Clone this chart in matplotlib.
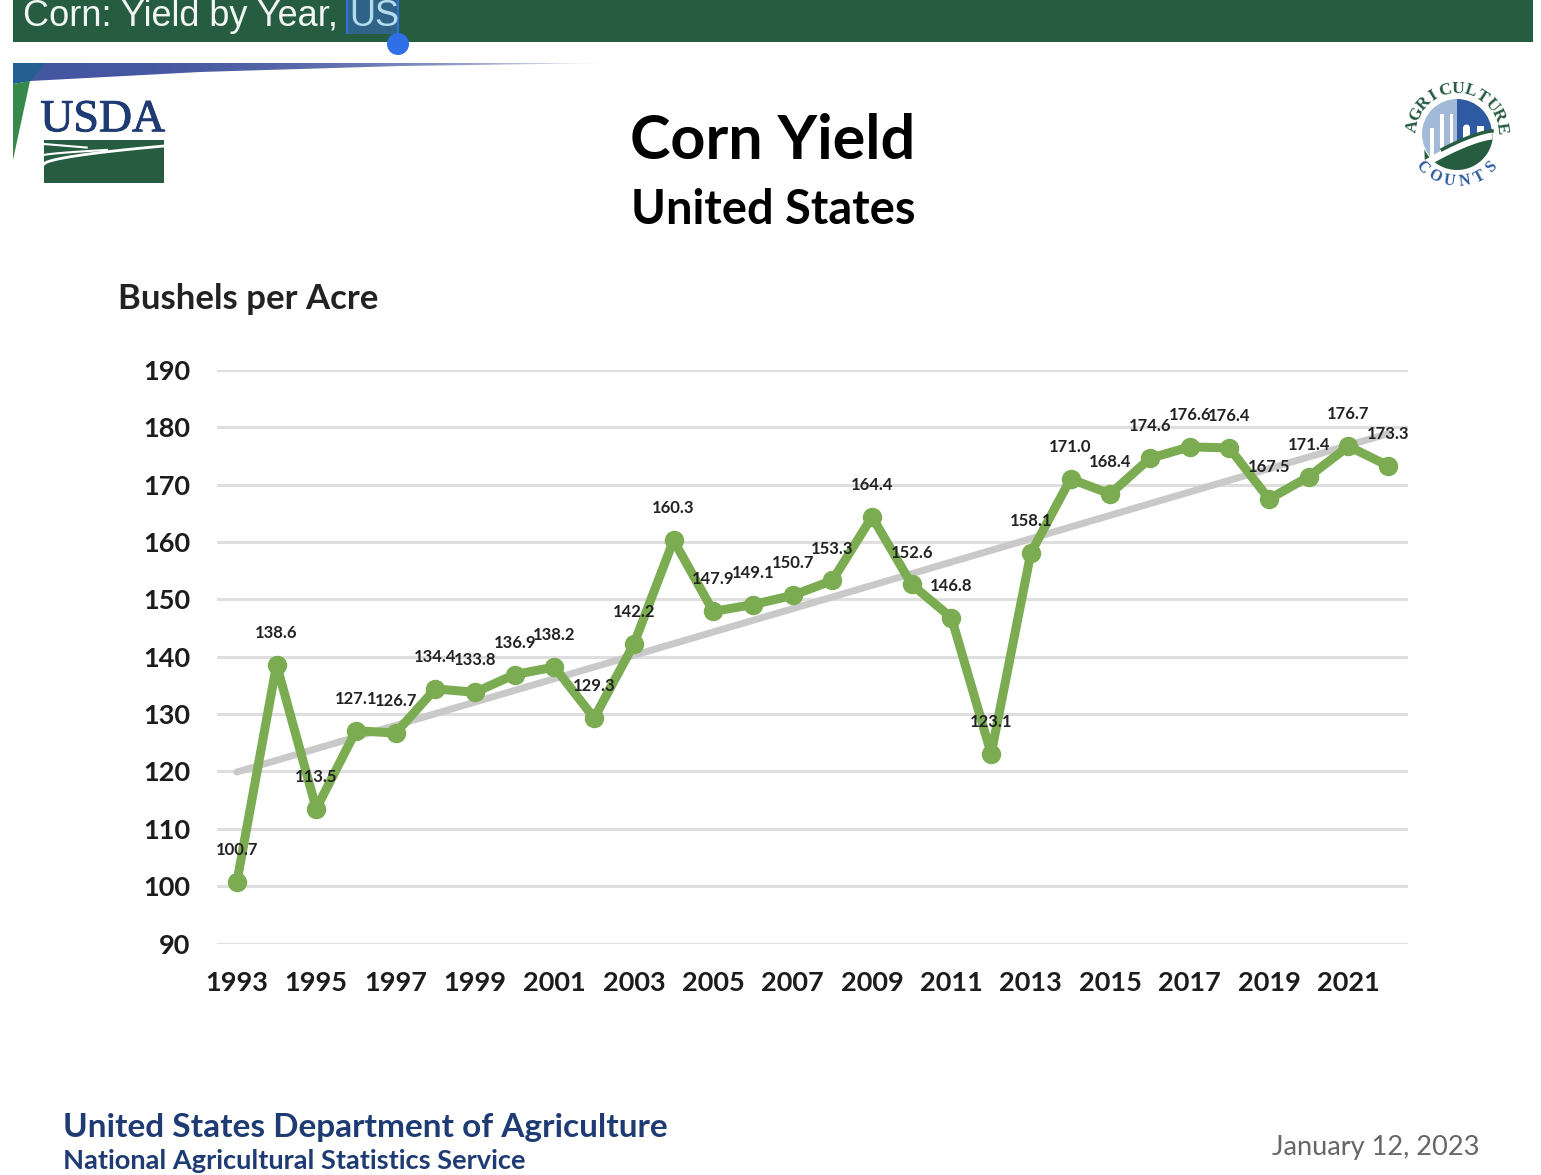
import numpy as np
import matplotlib
matplotlib.use('Agg')
import matplotlib.pyplot as plt
from matplotlib.patches import Rectangle, Circle, Polygon, Wedge
import matplotlib.patheffects as pe

# chart data
years = list(range(1993, 2023))
yields = [100.7, 138.6, 113.5, 127.1, 126.7, 134.4, 133.8, 136.9, 138.2, 129.3,
          142.2, 160.3, 147.9, 149.1, 150.7, 153.3, 164.4, 152.6, 146.8, 123.1,
          158.1, 171.0, 168.4, 174.6, 176.6, 176.4, 167.5, 171.4, 176.7, 173.3]
trend_years = [1993, 2022]
trend_values = [119.9, 178.9]
y_ticks = [90, 100, 110, 120, 130, 140, 150, 160, 170, 180, 190]
x_ticks = years[::2]

W, H = 1541, 1175
GREEN = '#7bac52'
DARK_GREEN = '#265c40'
NAVY = '#1f3b73'

fig = plt.figure(figsize=(W / 100, H / 100), dpi=100, facecolor='white')

# overlay in pixel coordinates for the slide decoration
bg = fig.add_axes([0, 0, 1, 1], zorder=0)
bg.axis('off')

# header bar
bg.add_patch(Rectangle((13, 0), 1520, 42, color=DARK_GREEN, lw=0))
bg.add_patch(Rectangle((347, 0), 52, 34, color='#2f6488', lw=0))
bg.add_patch(Rectangle((346, 0), 2.5, 34, color='#2f6fe0', lw=0))
bg.add_patch(Rectangle((397, 0), 2.5, 36, color='#2f6fe0', lw=0))
bg.add_patch(Circle((398, 44), 11, color='#2f6fe8', lw=0))
bg.text(23, 17, 'Corn: Yield by Year,', family='Liberation Sans', fontsize=26,
        color='#f2f6f2', va='center', ha='left')
bg.text(349, 17, 'US', family='Liberation Sans', fontsize=26,
        color='#b5dcec', va='center', ha='left')

# swoosh under the header
t = np.linspace(0, 1, 256) ** 3
grad = np.ones((2, 256, 4))
grad[..., 0] = 0.27 + 0.73 * t
grad[..., 1] = 0.34 + 0.66 * t
grad[..., 2] = 0.63 + 0.37 * t
im = bg.imshow(grad, extent=(13, 610, 82, 63), aspect='auto', zorder=1)
im.set_clip_path(Polygon([(13, 63), (610, 63), (400, 66), (200, 72), (30, 81), (13, 84)],
                         transform=bg.transData))
bg.add_patch(Polygon([(13, 63), (45, 63), (31, 81), (13, 84)], color='#235f91', lw=0, zorder=2))
bg.add_patch(Polygon([(13, 84), (30, 81), (13, 160)], color='#388a4c', lw=0, zorder=2))

# USDA logo
bg.text(103, 120, 'USDA', family='Liberation Serif', fontsize=33, color=NAVY,
        ha='center', va='center',
        path_effects=[pe.withStroke(linewidth=0.7, foreground=NAVY)])
bg.add_patch(Rectangle((44, 140), 120, 43, color=DARK_GREEN, lw=0))
xs = np.linspace(44, 164, 60)
u = (xs - 44) / 120
bg.plot(xs, 164 - 18 * u ** 0.6, color='white', lw=2)
bg.plot(xs[:32], 155 - 8 * u[:32] ** 0.7, color='white', lw=1.5)
bg.plot(xs[:22], 144 + 10 * u[:22], color='white', lw=1.5)

# Agriculture Counts seal
cx, cy = 1457, 134
bg.add_patch(Wedge((cx, cy), 35, 90, 270, color='#a3b9d8', lw=0))
bg.add_patch(Wedge((cx, cy), 35, -90, 90, color='#2d5aa0', lw=0))
for bx, bw, by in [(-27, 4, -6), (-17, 4, -20), (-7, 3, -20)]:
    bg.add_patch(Rectangle((cx + bx, cy + by), bw, 40, color='white', lw=0))
bg.add_patch(Rectangle((cx + 6, cy - 6), 7, 30, color='white', lw=0))
bg.add_patch(Circle((cx + 9.5, cy - 6), 3.5, color='white', lw=0))
bg.add_patch(Rectangle((cx + 20, cy - 8), 7, 26, color='white', lw=0))
# fields at the bottom of the seal
ang = np.radians(np.linspace(-155, 8, 60))
arc_x = cx + 36 * np.cos(ang)
arc_y = cy - 36 * np.sin(ang)
top_x = np.linspace(cx + 35, cx - 32, 40)
top_y = cy + 5 + 28 * ((cx + 35 - top_x) / 67) ** 1.4
bg.add_patch(Polygon(np.column_stack([np.r_[arc_x, top_x], np.r_[arc_y, top_y]]),
                     color=DARK_GREEN, lw=0, zorder=3))
bg.fill_between(top_x, top_y - 8, top_y, color='white', lw=0, zorder=3)
bg.plot(top_x[:30], top_y[:30] - 8, color=DARK_GREEN, lw=2.5, zorder=3)
bg.add_patch(Polygon([(cx - 38, cy + 20), (cx - 38, cy + 45), (cx - 14, cy + 45)],
                     color='white', lw=0, zorder=3))
word = 'AGRICULTURE'
for ch, a_deg in zip(word, np.linspace(170, 8, len(word))):
    a = np.radians(a_deg)
    bg.text(cx + 45 * np.cos(a), cy - 45 * np.sin(a), ch, family='Liberation Serif',
            weight='bold', fontsize=12.5, color='#24593f', rotation=a_deg - 90,
            ha='center', va='center', zorder=4)
word = 'COUNTS'
for ch, a_deg in zip(word, np.linspace(224, 316, len(word))):
    a = np.radians(a_deg)
    bg.text(cx + 48 * np.cos(a), cy - 48 * np.sin(a), ch, family='Liberation Serif',
            weight='bold', fontsize=11.5, color='#2d5aa0', rotation=a_deg + 90,
            ha='center', va='center', zorder=4)

# titles
bg.text(773, 141, 'Corn Yield', family='Lato', weight='bold', fontsize=44,
        color='black', ha='center', va='center')
bg.text(773, 210, 'United States', family='Lato', weight='bold', fontsize=33.8,
        color='black', ha='center', va='center')
bg.text(118, 299, 'Bushels per Acre', family='Lato', weight='bold', fontsize=25,
        color='#222222', ha='left', va='center')

# footer
bg.text(63, 1127, 'United States Department of Agriculture', family='Lato', weight='bold',
        fontsize=24, color=NAVY, ha='left', va='center')
bg.text(63, 1161, 'National Agricultural Statistics Service', family='Lato', weight='bold',
        fontsize=19.6, color=NAVY, ha='left', va='center')
bg.text(1480, 1148, 'January 12, 2023', family='Lato', fontsize=19.6,
        color='#666666', ha='right', va='center')

bg.set_xlim(0, W)
bg.set_ylim(H, 0)

# the chart itself
ax = fig.add_axes([217 / W, 1 - 943.5 / H, (1408 - 217) / W, (943.5 - 370) / H], zorder=1)
ax.patch.set_alpha(0)
ax.set_xlim(1992.5, 2022.5)
ax.set_ylim(90, 190)
ax.set_yticks(y_ticks)
ax.set_xticks(x_ticks)
ax.grid(axis='y', color='#dedede', lw=2.2)
ax.set_axisbelow(True)
for s in ax.spines.values():
    s.set_visible(False)
ax.tick_params(length=0, labelsize=19.5, colors='#1c1c1c')
ax.tick_params(axis='y', pad=19)
ax.tick_params(axis='x', pad=20)
for lab in ax.get_xticklabels() + ax.get_yticklabels():
    lab.set_family('Lato')
    lab.set_weight('bold')

ax.plot(trend_years, trend_values, color='#c9c9c9', lw=5, solid_capstyle='round', zorder=2)
ax.plot(years, yields, color=GREEN, lw=6.5, marker='o', ms=13, zorder=3, clip_on=False)

for yr, val in zip(years, yields):
    ax.annotate(f'{val:.1f}', (yr, val), xytext=(0, 23), textcoords='offset points',
                ha='center', va='center', family='Lato', weight='bold', fontsize=12,
                color='#222222', zorder=4)

fig.savefig('out.png', dpi=100)
